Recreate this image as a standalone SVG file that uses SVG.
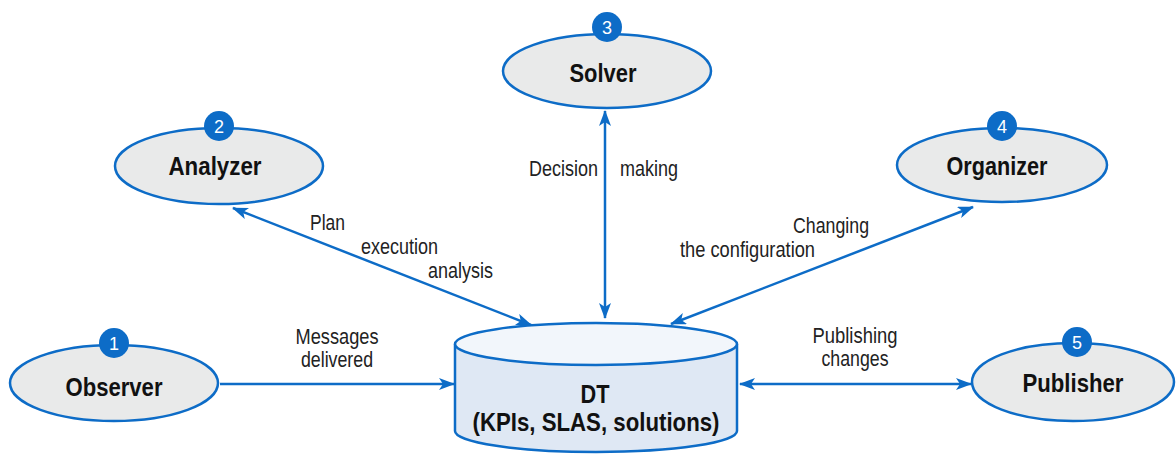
<svg xmlns="http://www.w3.org/2000/svg" width="1176" height="457" viewBox="0 0 1176 457">
<style>
.node{fill:#e9eaea;stroke:#0d6cc7;stroke-width:2.5}
.badge{fill:#0d6cc7}
.bt{fill:#fff;font-family:"Liberation Sans",sans-serif;font-size:18px;text-anchor:middle}
.nl{fill:#111;font-family:"Liberation Sans",sans-serif;font-weight:bold;font-size:26px;text-anchor:middle}
.el{fill:#222;font-family:"Liberation Sans",sans-serif;font-size:22px}
.cn{stroke:#0d6cc7;stroke-width:2.5;fill:none;marker-end:url(#ah)}
.bi{marker-start:url(#ahs)}
</style>
<defs>
<marker id="ah" viewBox="0 0 16 12" refX="15" refY="6" markerWidth="16" markerHeight="12" markerUnits="userSpaceOnUse" orient="auto"><path d="M0,0 L16,6 L0,12 L4,6 Z" fill="#0d6cc7"/></marker>
<marker id="ahs" viewBox="0 0 16 12" refX="1" refY="6" markerWidth="16" markerHeight="12" markerUnits="userSpaceOnUse" orient="auto"><path d="M16,0 L0,6 L16,12 L12,6 Z" fill="#0d6cc7"/></marker>
</defs>
<g id="connectors">
<line class="cn" x1="220" y1="384" x2="454" y2="384"/>
<line class="cn bi" x1="740" y1="384" x2="971" y2="384"/>
<line class="cn bi" x1="605" y1="111" x2="605" y2="318"/>
<line class="cn bi" x1="233" y1="208" x2="531" y2="325"/>
<line class="cn bi" x1="973" y1="207" x2="671" y2="324"/>
<text class="el" x="337" y="344" text-anchor="middle" textLength="83" lengthAdjust="spacingAndGlyphs">Messages</text>
<text class="el" x="337" y="367" text-anchor="middle" textLength="72" lengthAdjust="spacingAndGlyphs">delivered</text>
<text class="el" x="855" y="343" text-anchor="middle" textLength="85" lengthAdjust="spacingAndGlyphs">Publishing</text>
<text class="el" x="855" y="366" text-anchor="middle" textLength="67" lengthAdjust="spacingAndGlyphs">changes</text>
<text class="el" x="529" y="176" textLength="69" lengthAdjust="spacingAndGlyphs">Decision</text>
<text class="el" x="620" y="176" textLength="58" lengthAdjust="spacingAndGlyphs">making</text>
<text class="el" x="310" y="230" textLength="35" lengthAdjust="spacingAndGlyphs">Plan</text>
<text class="el" x="361" y="254" textLength="77" lengthAdjust="spacingAndGlyphs">execution</text>
<text class="el" x="428" y="278" textLength="65" lengthAdjust="spacingAndGlyphs">analysis</text>
<text class="el" x="793" y="233" textLength="76" lengthAdjust="spacingAndGlyphs">Changing</text>
<text class="el" x="680" y="257" textLength="135" lengthAdjust="spacingAndGlyphs">the configuration</text>
</g>
<g id="dt">
<path d="M455,344 L455,431 A141,21 0 0 0 737,431 L737,344" fill="#dfe8f4" stroke="#0d6cc7" stroke-width="2.5"/>
<ellipse cx="596" cy="344" rx="141" ry="21" fill="#f2f6fb" stroke="#0d6cc7" stroke-width="2.5"/>
<text class="nl" x="595" y="403" textLength="29" lengthAdjust="spacingAndGlyphs">DT</text>
<text class="nl" x="596" y="431" textLength="247" lengthAdjust="spacingAndGlyphs">(KPIs, SLAS, solutions)</text>
</g>
<g id="observer">
<ellipse class="node" cx="114" cy="383" rx="104" ry="38"/>
<circle class="badge" cx="114" cy="343" r="15"/>
<text class="bt" x="114" y="350">1</text>
<text class="nl" x="114" y="396" textLength="97" lengthAdjust="spacingAndGlyphs">Observer</text>
</g>
<g id="analyzer">
<ellipse class="node" cx="219" cy="166" rx="104" ry="38"/>
<circle class="badge" cx="219" cy="126" r="15"/>
<text class="bt" x="219" y="133">2</text>
<text class="nl" x="215" y="175" textLength="93" lengthAdjust="spacingAndGlyphs">Analyzer</text>
</g>
<g id="solver">
<ellipse class="node" cx="607" cy="71" rx="104" ry="37"/>
<circle class="badge" cx="607" cy="27" r="15"/>
<text class="bt" x="607" y="34">3</text>
<text class="nl" x="603" y="82" textLength="67" lengthAdjust="spacingAndGlyphs">Solver</text>
</g>
<g id="organizer">
<ellipse class="node" cx="1002" cy="165" rx="105" ry="37"/>
<circle class="badge" cx="1002" cy="126" r="15"/>
<text class="bt" x="1002" y="133">4</text>
<text class="nl" x="997" y="175" textLength="101" lengthAdjust="spacingAndGlyphs">Organizer</text>
</g>
<g id="publisher">
<ellipse class="node" cx="1073" cy="382" rx="101" ry="39"/>
<circle class="badge" cx="1077" cy="342" r="15"/>
<text class="bt" x="1077" y="349">5</text>
<text class="nl" x="1073" y="392" textLength="101" lengthAdjust="spacingAndGlyphs">Publisher</text>
</g>
</svg>
